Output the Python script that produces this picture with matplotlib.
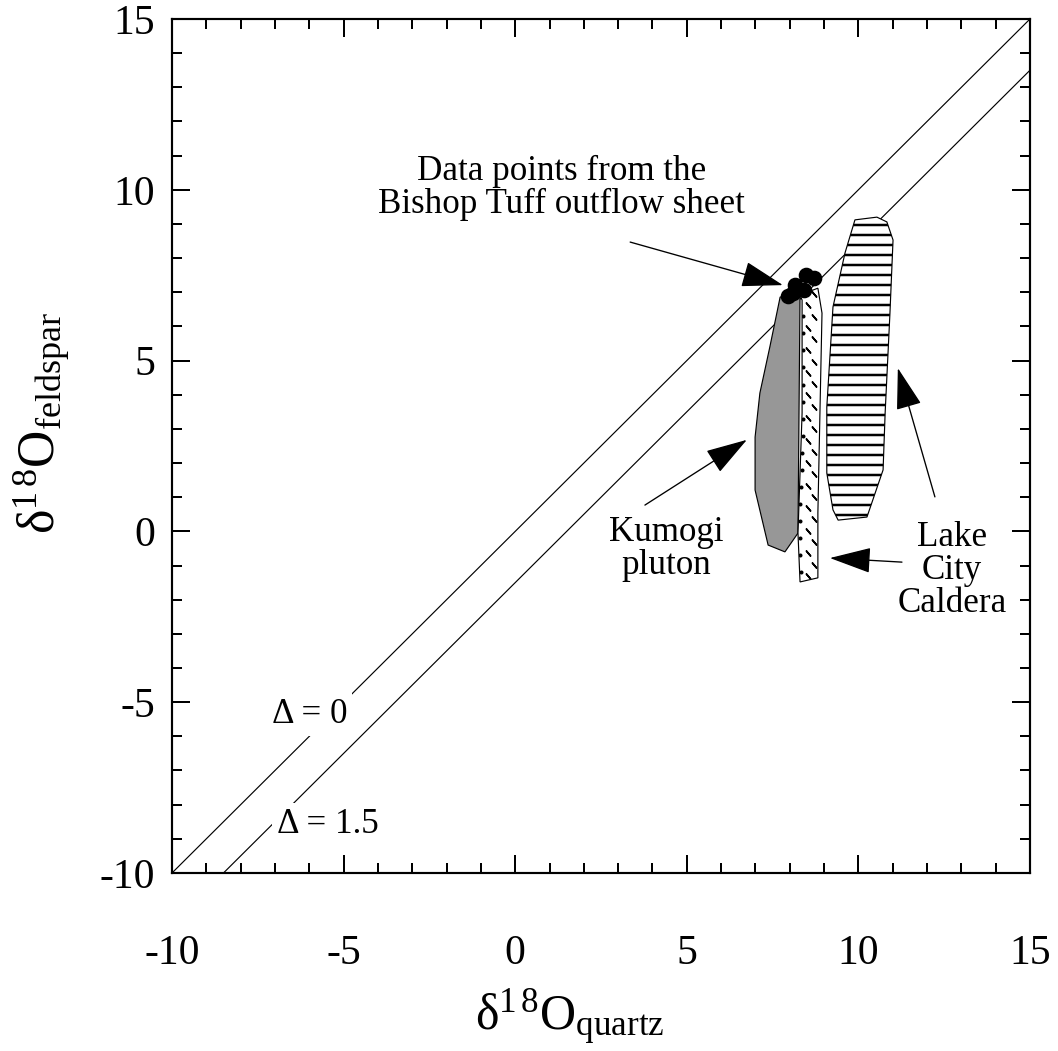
import matplotlib
matplotlib.use('Agg')
import matplotlib.pyplot as plt
import numpy as np
from matplotlib.patches import Polygon

plt.rcParams['font.family'] = ['Liberation Serif', 'DejaVu Serif']
plt.rcParams['mathtext.fontset'] = 'custom'
plt.rcParams['mathtext.rm'] = 'Liberation Serif'
plt.rcParams['mathtext.it'] = 'Liberation Serif:italic'
plt.rcParams['axes.unicode_minus'] = False
plt.rcParams['hatch.linewidth'] = 1.5

# reference lines: delta18O_feldspar = delta18O_quartz - offset
line_offsets = [0.0, 1.5]
line_labels = ['Δ = 0', 'Δ = 1.5']
line_label_pos = [(-6.0, -5.62), (-5.45, -8.83)]

# field outlines (x = d18O quartz, y = d18O feldspar)
kumogi_x = [7.72, 8.30, 8.24, 7.86, 7.37, 6.99, 6.99, 7.13, 7.42]
kumogi_y = [6.86, 6.98, -0.05, -0.60, -0.40, 1.21, 2.76, 4.05, 5.40]

dotted_x = [8.30, 8.82, 8.94, 8.88, 8.82, 8.82, 8.30, 8.24, 8.36, 8.36]
dotted_y = [6.92, 7.12, 6.39, 3.47, 0.54, -1.36, -1.48, -0.05, 3.47, 6.77]

caldera_x = [9.90, 10.54, 10.83, 11.01, 10.92, 10.78, 10.72, 10.25, 9.41,
             9.26, 9.08, 9.08, 9.26, 9.61]
caldera_y = [9.12, 9.20, 9.06, 8.53, 6.39, 3.47, 1.80, 0.42, 0.33,
             0.63, 1.71, 3.64, 6.57, 8.15]

# Bishop Tuff outflow sheet samples
bishop_x = [8.15, 8.47, 8.71, 8.09, 8.41, 7.94]
bishop_y = [7.21, 7.51, 7.42, 6.98, 7.07, 6.89]

# annotations: text, text position (baseline of last line), arrow tail, arrow tip
notes = [
    ('Data points from the\nBishop Tuff outflow sheet', (1.35, 9.32), (3.35, 8.47), (7.80, 7.21)),
    ('Kumogi\npluton', (4.39, -1.25), (3.78, 0.77), (6.75, 2.68)),
    ('Lake\nCity\nCaldera', (12.73, -2.36), (12.23, 1.01), (11.15, 4.78)),
]
extra_arrows = [((11.27, -0.90), (9.17, -0.78))]

arrow_style = '-|>,head_length=1.1,head_width=0.34'

fig = plt.figure(figsize=(1058 / 120, 1051 / 120), dpi=120)
ax = fig.add_axes([0.1626, 0.1694, 0.8109, 0.8125])

xx = np.array([-10.0, 15.0])
for off in line_offsets:
    ax.plot(xx, xx - off, color='black', lw=0.7, zorder=1)
for lab, (tx, ty) in zip(line_labels, line_label_pos):
    ax.text(tx, ty, lab, fontsize=21, ha='center', va='baseline', zorder=2,
            bbox=dict(facecolor='white', edgecolor='none', pad=3))

ax.add_patch(Polygon(np.column_stack([kumogi_x, kumogi_y]), closed=True,
                     facecolor='#979797', edgecolor='black', lw=0.7, zorder=3))
dot_poly = Polygon(np.column_stack([dotted_x, dotted_y]), closed=True,
                   facecolor='white', edgecolor='black', lw=0.7, zorder=3)
ax.add_patch(dot_poly)
# small dash texture inside the dotted field
rows = np.arange(-1.3, 7.0, 0.33)
tex_x = np.where(np.arange(len(rows)) % 2 == 0, 8.52, 8.70)
sc = ax.scatter(tex_x, rows, marker=(2, 2, 40), s=14, color='black',
                linewidths=1.0, zorder=4)
sc.set_clip_path(dot_poly)
edge_rows = np.arange(-1.2, 6.8, 0.5)
sc2 = ax.scatter(np.interp(edge_rows, [-1.48, -0.05, 3.47, 6.77], [8.30, 8.24, 8.36, 8.36]) + 0.04,
                 edge_rows, s=2, color='black', zorder=4)
sc2.set_clip_path(dot_poly)

ax.add_patch(Polygon(np.column_stack([caldera_x, caldera_y]), closed=True,
                     facecolor='white', edgecolor='black', hatch='--', lw=0.7, zorder=3))

ax.scatter(bishop_x, bishop_y, s=70, color='black', zorder=5)

for txt, (tx, ty), tail, tip in notes:
    ax.text(tx, ty, txt, fontsize=21, ha='center', va='baseline', linespacing=1.0)
    ax.annotate('', xy=tip, xytext=tail,
                arrowprops=dict(arrowstyle=arrow_style, mutation_scale=20,
                                color='black', lw=0.8, shrinkA=0, shrinkB=0))
for tail, tip in extra_arrows:
    ax.annotate('', xy=tip, xytext=tail,
                arrowprops=dict(arrowstyle=arrow_style, mutation_scale=20,
                                color='black', lw=0.8, shrinkA=0, shrinkB=0))

ax.set_xlim(-10, 15)
ax.set_ylim(-10, 15)
ax.set_xticks(np.arange(-10, 16, 5))
ax.set_yticks(np.arange(-10, 16, 5))
ax.set_xticks(np.arange(-10, 16, 1), minor=True)
ax.set_yticks(np.arange(-10, 16, 1), minor=True)
ax.tick_params(which='both', direction='in', top=True, right=True, width=1.2)
ax.tick_params(which='major', length=11, labelsize=25)
ax.tick_params(which='minor', length=6)
ax.tick_params(axis='x', pad=37)
ax.tick_params(axis='y', pad=10)
for s in ax.spines.values():
    s.set_linewidth(1.3)

ax.set_xlabel(r'$\mathrm{δ}^{1\,8}\mathrm{O}_{\mathrm{quartz}}$', fontsize=30)
ax.set_ylabel(r'$\mathrm{δ}^{1\,8}\mathrm{O}_{\mathrm{feldspar}}$', fontsize=31)
ax.xaxis.set_label_coords(0.463, -0.134)
ax.yaxis.set_label_coords(-0.117, 0.527)

fig.savefig('out.png', dpi=120)
